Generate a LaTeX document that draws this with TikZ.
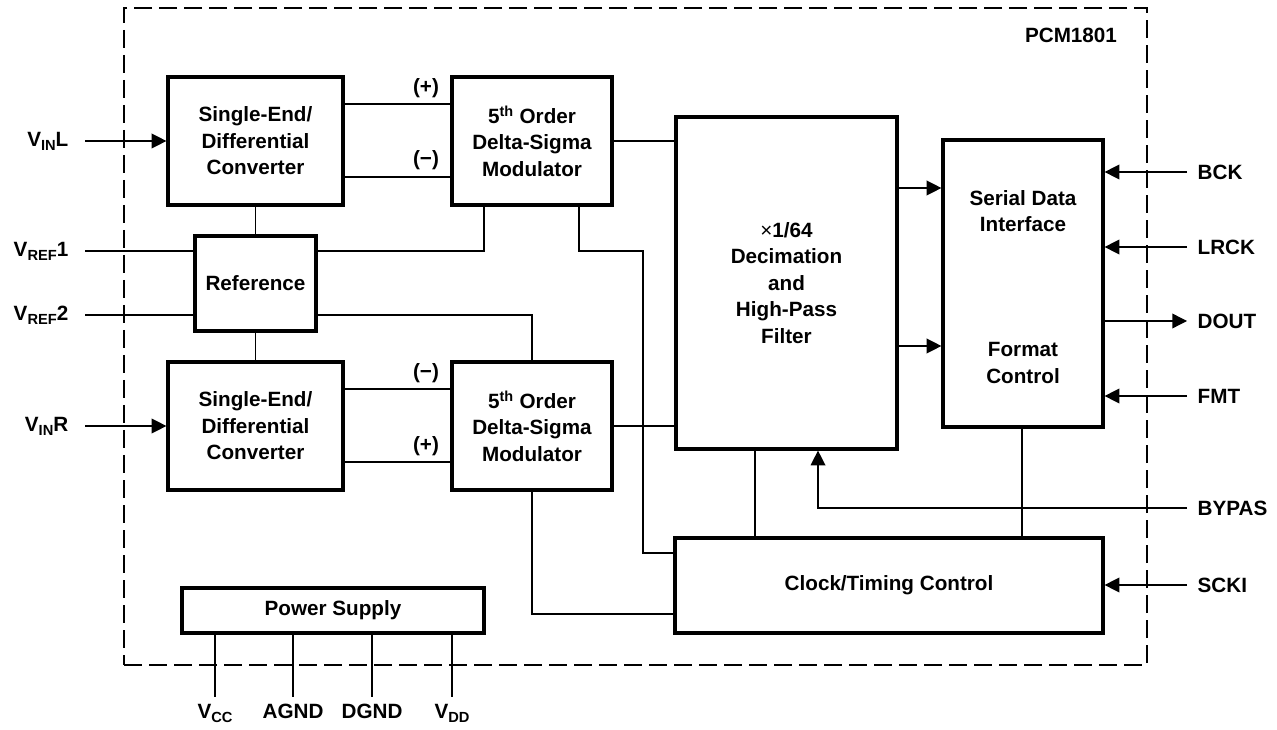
\documentclass[tikz,border=0pt]{standalone}
\usepackage{fontspec}
\setmainfont{Liberation Sans}
\usetikzlibrary{arrows.meta}
\newcommand{\blockfont}{\fontsize{15.5}{19.9}\selectfont\bfseries}
\newcommand{\pinsub}[1]{\raisebox{-0.35ex}{\fontsize{11}{11}\selectfont #1}}
\tikzstyle{every picture}=[x=0.75pt, y=-0.75pt, line width=1pt,%
	>={Triangle[length=11pt, width=11pt]}]
\tikzstyle{block}=[draw, line width=2.4pt, inner sep=0pt, align=center, font=\blockfont]
\tikzstyle{frame}=[draw, line width=2pt, dash pattern=on 13.5pt off 5.25pt, inner sep=0pt]
\tikzstyle{sign}=[font=\blockfont, inner sep=0pt, align=center]
\tikzstyle{pinr}=[font=\blockfont, anchor=west, inner xsep=7.5pt, inner ysep=0pt]
\tikzstyle{pinl}=[font=\blockfont, anchor=east, inner xsep=12pt, inner ysep=0pt]
\tikzstyle{pinb}=[font=\blockfont, anchor=north, inner xsep=0pt, inner ysep=5pt]

\begin{document}
\begin{tikzpicture}
	\useasboundingbox (0,0) rectangle (1277,730);
	\node[frame, minimum width=767.25pt, minimum height=492.75pt] (chip) at (635.5,336.5) {};
	\node[sign] (part) at (1071,35) {PCM1801};

	\node[block, minimum width=131.25pt, minimum height=96pt] (sel) at (255.5,141) {Single-End/\\Differential\\Converter};
	\node[block, minimum width=131.25pt, minimum height=96pt] (ser) at (255.5,426) {Single-End/\\Differential\\Converter};
	\node[block, minimum width=90.75pt, minimum height=71.25pt] (ref) at (255.5,283.5) {Reference};
	\node[block, minimum width=120pt, minimum height=96pt] (modl) at (532,141) {5\textsuperscript{th} Order\\Delta-Sigma\\Modulator};
	\node[block, minimum width=120pt, minimum height=96pt] (modr) at (532,426) {5\textsuperscript{th} Order\\Delta-Sigma\\Modulator};
	\node[block, minimum width=165.75pt, minimum height=249pt] (dec) at (786.5,283) {{\mdseries×}1/64\\Decimation\\and\\High-Pass\\Filter};
	\node[block, minimum width=120pt, minimum height=215.25pt] (sdi) at (1023,283.5) {};
	\node[sign] (sdit) at (1023,211) {Serial Data\\Interface};
	\node[sign] (fmtt) at (1023,363) {Format\\Control};
	\node[block, minimum width=321pt, minimum height=71.25pt] (clk) at (889,585.5) {Clock/Timing Control};
	\node[block, minimum width=226.5pt, minimum height=33.75pt] (pwr) at (333,610.5) {Power Supply};

	\node[pinl] (vinl) at (85,141) {V\pinsub{IN}L};
	\node[pinl] (vref1) at (85,251) {V\pinsub{REF}1};
	\node[pinl] (vref2) at (85,315) {V\pinsub{REF}2};
	\node[pinl] (vinr) at (85,426) {V\pinsub{IN}R};
	\node[pinr] (bck) at (1187,172) {BCK};
	\node[pinr] (lrck) at (1187,247) {LRCK};
	\node[pinr] (dout) at (1187,321) {DOUT};
	\node[pinr] (fmt) at (1187,396) {FMT};
	\node[pinr] (bypas) at (1187,508) {BYPAS};
	\node[pinr] (scki) at (1187,585) {SCKI};
	\node[pinb] (vcc) at (215,697) {V\pinsub{CC}};
	\node[pinb] (agnd) at (293,697) {AGND};
	\node[pinb] (dgnd) at (372,697) {DGND};
	\node[pinb] (vdd) at (452,697) {V\pinsub{DD}};

	\node[sign] (lp) at (426,88) {(+)};
	\node[sign] (lm) at (426,160) {(−)};
	\node[sign] (rm) at (426,373) {(−)};
	\node[sign] (rp) at (426,446) {(+)};

	\draw[->] (vinl.east) -- (sel.west);
	\draw[->] (vinr.east) -- (ser.west);
	\draw (vref1.east) -- (ref.west |- vref1.east);
	\draw (vref2.east) -- (ref.west |- vref2.east);
	\draw (sel) -- (ref);
	\draw (ref) -- (ser);
	\draw (sel.east |- 0,104) -- (modl.west |- 0,104);
	\draw (sel.east |- 0,177) -- (modl.west |- 0,177);
	\draw (ser.east |- 0,389) -- (modr.west |- 0,389);
	\draw (ser.east |- 0,462) -- (modr.west |- 0,462);
	\draw (modl.south -| 484,0) |- (ref.east |- 0,251);
	\draw (modl.south -| 579,0) |- (643,251) |- (clk.west |- 0,553);
	\draw (ref.east |- 0,315) -| (modr.north);
	\draw (modr.south) |- (clk.west |- 0,614);
	\draw (modl.east) -- (modl.east -| dec.west);
	\draw (modr.east) -- (modr.east -| dec.west);
	\draw[->] (dec.east |- 0,188) -- (sdi.west |- 0,188);
	\draw[->] (dec.east |- 0,346) -- (sdi.west |- 0,346);
	\draw (dec.south -| 755,0) -- (clk.north -| 755,0);
	\draw (sdi.south -| 1022,0) -- (clk.north -| 1022,0);
	\draw[->] (bypas.west) -| (dec.south -| 818,0);
	\draw[->] (scki.west) -- (clk.east |- scki.west);
	\draw[->] (bck.west) -- (sdi.east |- bck.west);
	\draw[->] (lrck.west) -- (sdi.east |- lrck.west);
	\draw[->] (fmt.west) -- (sdi.east |- fmt.west);
	\draw[->] (sdi.east |- dout.west) -- (dout.west);
	\draw (pwr.south -| vcc.north) -- (vcc.north);
	\draw (pwr.south -| agnd.north) -- (agnd.north);
	\draw (pwr.south -| dgnd.north) -- (dgnd.north);
	\draw (pwr.south -| vdd.north) -- (vdd.north);
\end{tikzpicture}
\end{document}
